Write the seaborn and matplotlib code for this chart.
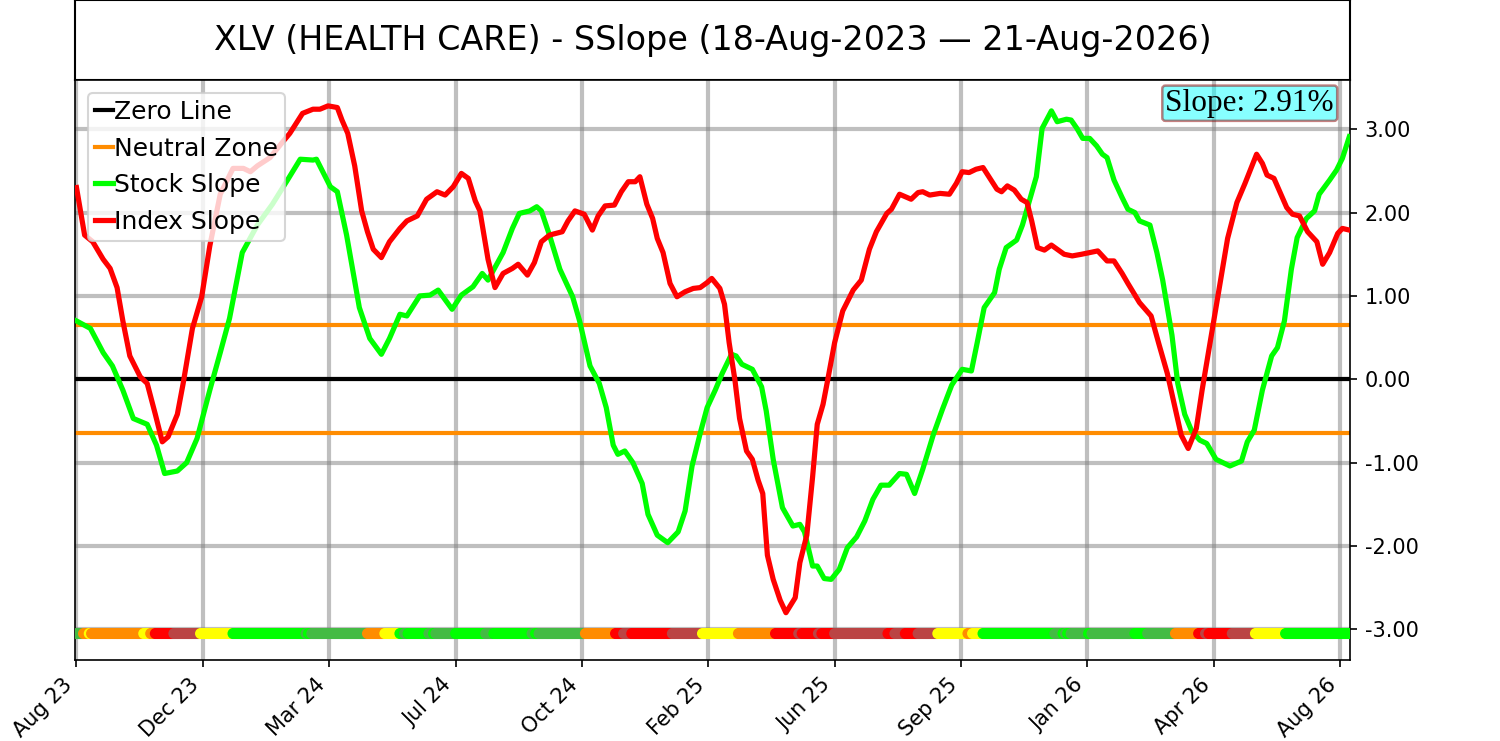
import numpy as np
import pandas as pd
import matplotlib
matplotlib.use("Agg")
import matplotlib.pyplot as plt
import matplotlib.dates as mdates
from matplotlib.ticker import FormatStrFormatter
import seaborn as sns

# ---------------- data ----------------
TITLE = "XLV (HEALTH CARE) - SSlope (18-Aug-2023 \u2014 21-Aug-2026)"
START = "2023-08-18"
END = "2026-08-21"
SLOPE_TEXT = "Slope: 2.91%"
NEUTRAL = 0.65
TICK_STEP_DAYS = 109
Y_TICKS = [-3, -2, -1, 0, 1, 2, 3]
DOT_LEVEL = -3.05

# day offsets from START and slope values
stock_days = [0, 12, 23, 31, 40, 49, 61, 69, 76, 87,
              95, 104, 115, 124, 132, 143, 156, 169, 182, 193,
              204, 207, 219, 225, 233, 244, 253, 263, 270, 279,
              285, 296, 305, 312, 324, 332, 342, 350, 355, 368,
              376, 382, 391, 397, 401, 408, 417, 428, 434, 443,
              451, 457, 463, 467, 473, 480, 488, 493, 501, 510,
              519, 525, 531, 538, 544, 551, 557, 565, 569, 574,
              583, 591, 595, 601, 609, 618, 624, 628, 635, 639,
              645, 651, 658, 665, 673, 680, 687, 694, 701, 710,
              716, 723, 730, 739, 747, 755, 764, 772, 777, 783,
              792, 796, 802, 811, 816, 822, 828, 833, 841, 846,
              854, 858, 863, 868, 874, 880, 885, 889, 895, 902,
              907, 913, 917, 926, 932, 937, 945, 950, 956, 962,
              969, 975, 983, 995, 1005, 1010, 1016, 1023, 1031, 1036,
              1042, 1048, 1053, 1061, 1068, 1072, 1081, 1087, 1092, 1098]
stock_vals = [0.70, 0.61, 0.32, 0.16, -0.13, -0.47, -0.54, -0.79, -1.13, -1.10,
              -1.00, -0.71, -0.13, 0.32, 0.73, 1.52, 1.85, 2.10, 2.39, 2.64,
              2.63, 2.64, 2.31, 2.25, 1.73, 0.86, 0.49, 0.30, 0.49, 0.78,
              0.76, 1.00, 1.01, 1.07, 0.84, 1.01, 1.11, 1.27, 1.19, 1.52,
              1.81, 1.99, 2.02, 2.07, 2.02, 1.73, 1.32, 0.99, 0.70, 0.16,
              -0.05, -0.34, -0.79, -0.90, -0.86, -1.00, -1.25, -1.62, -1.87, -1.96,
              -1.83, -1.58, -1.04, -0.65, -0.34, -0.13, 0.07, 0.30, 0.28, 0.18,
              0.12, -0.09, -0.38, -0.96, -1.54, -1.76, -1.74, -1.83, -2.24, -2.24,
              -2.39, -2.40, -2.28, -2.02, -1.89, -1.70, -1.44, -1.27, -1.27, -1.13,
              -1.14, -1.37, -1.08, -0.67, -0.36, -0.07, 0.12, 0.10, 0.44, 0.86,
              1.04, 1.32, 1.58, 1.67, 1.85, 2.14, 2.43, 3.01, 3.22, 3.09,
              3.12, 3.11, 3.01, 2.89, 2.89, 2.80, 2.70, 2.66, 2.39, 2.18,
              2.04, 2.00, 1.90, 1.85, 1.52, 1.19, 0.53, -0.05, -0.42, -0.62,
              -0.73, -0.77, -0.96, -1.04, -0.98, -0.75, -0.61, -0.13, 0.28, 0.38,
              0.70, 1.32, 1.70, 1.93, 2.02, 2.22, 2.39, 2.51, 2.65, 2.91]

index_days = [0, 7, 14, 23, 29, 35, 40, 46, 55, 61,
              68, 74, 79, 87, 92, 100, 108, 115, 124, 135,
              144, 150, 156, 167, 178, 184, 195, 204, 210, 217,
              225, 229, 234, 240, 246, 251, 256, 263, 270, 279,
              285, 294, 302, 311, 318, 325, 332, 338, 344, 348,
              355, 361, 368, 376, 381, 389, 395, 401, 408, 419,
              424, 430, 438, 445, 450, 456, 464, 470, 476, 482,
              486, 492, 497, 501, 506, 512, 518, 525, 532, 538,
              544, 548, 555, 559, 563, 568, 572, 578, 583, 588,
              592, 596, 601, 607, 612, 620, 624, 630, 635, 639,
              644, 648, 654, 661, 670, 677, 684, 690, 699, 703,
              710, 720, 726, 730, 736, 745, 753, 759, 764, 770,
              776, 782, 788, 794, 798, 803, 809, 815, 820, 824,
              829, 835, 841, 846, 852, 859, 867, 874, 881, 889,
              895, 902, 907, 917, 927, 934, 941, 947, 953, 959,
              966, 971, 979, 986, 993, 1001, 1008, 1014, 1018, 1023,
              1027, 1033, 1039, 1044, 1049, 1055, 1062, 1070, 1075, 1081,
              1088, 1092, 1098]
index_vals = [2.30, 1.73, 1.65, 1.44, 1.33, 1.10, 0.70, 0.28, 0.03, -0.05,
              -0.42, -0.75, -0.69, -0.42, -0.05, 0.61, 0.99, 1.60, 2.22, 2.53,
              2.53, 2.49, 2.56, 2.66, 2.85, 2.95, 3.19, 3.24, 3.24, 3.28,
              3.26, 3.11, 2.95, 2.56, 2.02, 1.77, 1.56, 1.46, 1.65, 1.81,
              1.90, 1.96, 2.16, 2.25, 2.21, 2.31, 2.47, 2.41, 2.14, 2.02,
              1.44, 1.10, 1.27, 1.33, 1.38, 1.25, 1.40, 1.65, 1.73, 1.77,
              1.90, 2.02, 1.98, 1.79, 1.96, 2.08, 2.09, 2.25, 2.37, 2.37,
              2.43, 2.10, 1.93, 1.69, 1.52, 1.15, 0.99, 1.05, 1.09, 1.10,
              1.16, 1.21, 1.09, 0.90, 0.44, -0.01, -0.47, -0.86, -0.96, -1.21,
              -1.37, -2.11, -2.40, -2.65, -2.80, -2.62, -2.20, -1.87, -1.17, -0.54,
              -0.30, -0.01, 0.44, 0.82, 1.07, 1.19, 1.56, 1.77, 1.99, 2.04,
              2.22, 2.16, 2.24, 2.25, 2.21, 2.23, 2.22, 2.35, 2.49, 2.48,
              2.52, 2.54, 2.41, 2.28, 2.25, 2.32, 2.27, 2.16, 2.12, 1.90,
              1.58, 1.55, 1.61, 1.56, 1.50, 1.48, 1.50, 1.52, 1.54, 1.42,
              1.42, 1.27, 1.15, 0.92, 0.76, 0.41, 0.07, -0.30, -0.67, -0.83,
              -0.59, -0.13, 0.53, 1.10, 1.69, 2.12, 2.35, 2.56, 2.70, 2.59,
              2.45, 2.41, 2.22, 2.06, 1.98, 1.96, 1.77, 1.65, 1.38, 1.52,
              1.75, 1.81, 1.79]

# signal state runs along the bottom (start day of each run, state code)
state_start_days = [0, 6, 11, 13, 58, 64, 68, 84, 107, 135,
                    198, 200, 203, 251, 266, 279, 283, 286, 304, 308,
                    310, 327, 353, 360, 393, 396, 399, 439, 465, 472,
                    479, 514, 540, 571, 603, 623, 626, 640, 643, 654,
                    700, 706, 715, 726, 743, 769, 773, 782, 844, 851,
                    853, 855, 858, 873, 876, 913, 924, 948, 968, 974,
                    977, 997, 1017, 1043]
state_codes = ["G", "O", "Y", "O", "Y", "O", "R", "B", "Y", "L",
               "G", "L", "G", "O", "Y", "L", "G", "L", "G", "L",
               "G", "L", "G", "L", "G", "L", "G", "O", "R", "B",
               "R", "B", "Y", "O", "R", "B", "R", "B", "R", "B",
               "R", "B", "R", "B", "Y", "O", "Y", "L", "G", "L",
               "G", "L", "G", "L", "G", "L", "G", "O", "R", "B",
               "R", "B", "Y", "L"]
state_palette = {"L": "#00FF00", "G": "#44BB44", "O": "#FF8C00",
                 "Y": "#FFFF00", "R": "#FF0000", "B": "#BB4444"}

# ---------------- build frames ----------------
start = pd.Timestamp(START)
end = pd.Timestamp(END)
last_day = max(stock_days[-1], index_days[-1])

stock_df = pd.DataFrame({"date": start + pd.to_timedelta(stock_days, unit="D"),
                         "slope": stock_vals})
index_df = pd.DataFrame({"date": start + pd.to_timedelta(index_days, unit="D"),
                         "slope": index_vals})

dot_day_list, dot_state_list = [], []
bounds = state_start_days + [last_day + 1]
for i, code in enumerate(state_codes):
    for d in range(bounds[i], bounds[i + 1]):
        dot_day_list.append(d)
        dot_state_list.append(code)
dots_df = pd.DataFrame({"date": start + pd.to_timedelta(dot_day_list, unit="D"),
                        "level": DOT_LEVEL,
                        "state": dot_state_list})

# ---------------- figure ----------------
fig = plt.figure(figsize=(10, 4.94), dpi=150)
ax_t = fig.add_axes([0.05, 0.892, 0.85, 0.1075])
ax_t.set_xticks([])
ax_t.set_yticks([])
for sp in ax_t.spines.values():
    sp.set_linewidth(1.0)
ax_t.text(0.5, 0.5, TITLE, ha="center", va="center", fontsize=16,
          transform=ax_t.transAxes)

ax = fig.add_axes([0.05, 0.109, 0.85, 0.783])
ax.grid(True, color="gray", alpha=0.5, linewidth=2, zorder=0)
ax.set_axisbelow(True)

ax.axhline(0, color="black", linewidth=2, label="Zero Line", zorder=2)
ax.axhline(NEUTRAL, color="#FF8C00", linewidth=2, label="Neutral Zone", zorder=2)
ax.axhline(-NEUTRAL, color="#FF8C00", linewidth=2, zorder=2)

sns.lineplot(data=stock_df, x="date", y="slope", color="#00FF00", linewidth=2.5,
             label="Stock Slope", ax=ax, zorder=3, legend=False)
sns.lineplot(data=index_df, x="date", y="slope", color="#FF0000", linewidth=2.5,
             label="Index Slope", ax=ax, zorder=3, legend=False)

sns.scatterplot(data=dots_df, x="date", y="level", hue="state",
                palette=state_palette, s=28, linewidth=0, legend=False,
                ax=ax, zorder=4)

ax.set_xlim(start - pd.Timedelta(hours=31), start + pd.Timedelta(hours=26366))
ax.set_ylim(-3.37, 3.59)
ax.set_xlabel("")
ax.set_ylabel("")

tick_dates = [start + pd.Timedelta(days=TICK_STEP_DAYS * k)
              for k in range((end - start).days // TICK_STEP_DAYS + 1)]
ax.set_xticks(tick_dates)
ax.xaxis.set_major_formatter(mdates.DateFormatter("%b %y"))
plt.setp(ax.get_xticklabels(), rotation=45, ha="right", fontsize=10)

ax.yaxis.tick_right()
ax.set_yticks(Y_TICKS)
ax.yaxis.set_major_formatter(FormatStrFormatter("%.2f"))
ax.tick_params(axis="y", labelsize=10)

ax.legend(loc="upper left", fontsize=12, handlelength=0.7, handletextpad=0.05,
          labelspacing=0.5, borderpad=0.3)

ax.text(0.9875, 0.985, SLOPE_TEXT, transform=ax.transAxes, ha="right", va="top",
        fontsize=15, family=["Liberation Serif", "DejaVu Serif"],
        bbox=dict(boxstyle="round,pad=0.1", facecolor=(0, 1, 1, 0.47),
                  edgecolor=(0.55, 0.0, 0.0, 0.5), linewidth=1.2),
        zorder=6)

fig.savefig("out.png", dpi=150)
